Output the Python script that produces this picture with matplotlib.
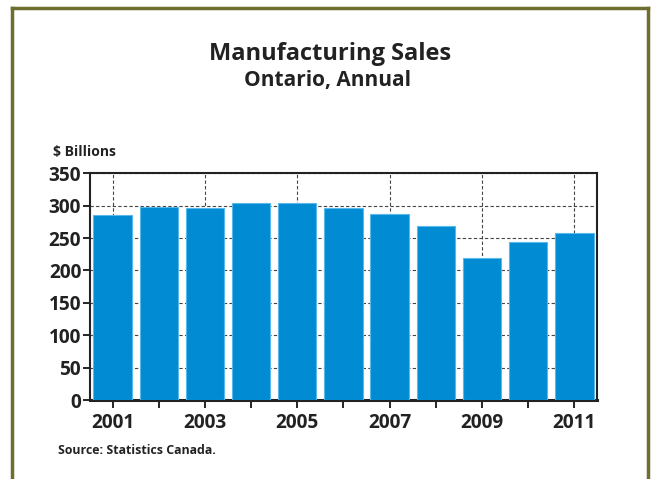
import matplotlib
matplotlib.use("Agg")
import matplotlib.pyplot as plt
from matplotlib.lines import Line2D

# ── Data ──────────────────────────────────────────────
years = [2001, 2002, 2003, 2004, 2005, 2006, 2007, 2008, 2009, 2010, 2011]
sales = [285, 298, 296, 304, 304, 296, 287, 269, 219, 244, 258]
label_years = [2001, 2003, 2005, 2007, 2009, 2011]
minor_years = [2002, 2004, 2006, 2008, 2010]
y_ticks = [0, 50, 100, 150, 200, 250, 300, 350]

plt.rcParams["font.family"] = ["Open Sans", "DejaVu Sans"]
TXT = "#222222"

fig = plt.figure(figsize=(6.52, 4.79), dpi=100)
ax = fig.add_axes([0.1373, 0.1649, 0.779, 0.4733])

ax.bar(years, sales, width=0.83, color="#008bd2", edgecolor="#5ab8ea",
       linewidth=0.8, zorder=3)

ax.set_xlim(2000.5, 2011.5)
ax.set_ylim(0, 350)
ax.set_yticks(y_ticks)
ax.set_xticks(label_years)
ax.set_xticks(minor_years, minor=True)
ax.set_xticklabels([str(y) for y in label_years], fontsize=13.7,
                   fontweight="bold", color=TXT)
ax.set_yticklabels([str(v) for v in y_ticks], fontsize=13.7,
                   fontweight="bold", color=TXT)

ax.tick_params(axis="x", which="both", direction="out", length=6, width=1.2,
               pad=3)
ax.tick_params(axis="y", direction="out", length=5, width=1.2, pad=1)

ax.grid(True, which="major", axis="both", linestyle=(0, (3, 2)),
        color="#444444", linewidth=0.8, zorder=0)
ax.grid(False, which="minor")
ax.set_axisbelow(True)

for s in ax.spines.values():
    s.set_linewidth(1.5)
    s.set_color(TXT)
ax.spines["bottom"].set_linewidth(2.2)

# ── Text ──────────────────────────────────────────────
fig.text(0.506, 0.875, "Manufacturing Sales", ha="center", va="baseline",
         fontsize=17, fontweight="bold", color=TXT)
fig.text(0.503, 0.8205, "Ontario, Annual", ha="center", va="baseline",
         fontsize=15, fontweight="bold", color=TXT)
fig.text(0.081, 0.682, "$ Billions", ha="left", va="center",
         fontsize=10, fontweight="bold", color=TXT)
fig.text(0.089, 0.0605, "Source: Statistics Canada.", ha="left", va="center",
         fontsize=8.9, fontweight="bold", color=TXT)

# ── Olive frame (open at bottom) ──────────────────────
frame_col = "#6e6e2f"
for xs, ys in [([0.0185, 0.0185], [0.0, 0.983]),
               ([0.9935, 0.9935], [0.0, 0.983]),
               ([0.0185, 0.9935], [0.983, 0.983])]:
    fig.add_artist(Line2D(xs, ys, color=frame_col, linewidth=2.5,
                          transform=fig.transFigure))

fig.savefig("out.png", dpi=100)
